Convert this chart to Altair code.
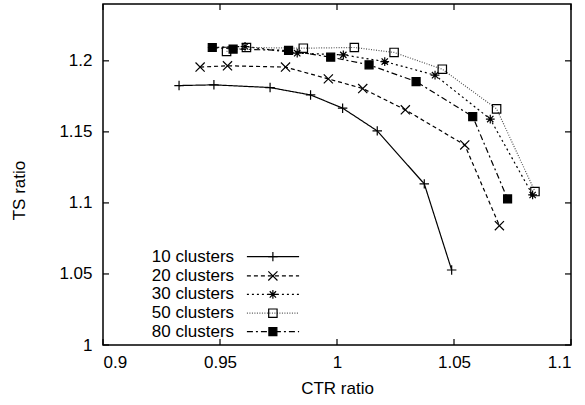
import altair as alt
import pandas as pd

series = ["10 clusters", "20 clusters", "30 clusters", "50 clusters", "80 clusters"]

ctr_10 = [0.9325, 0.9474, 0.9714, 0.9887, 1.0024, 1.0172, 1.0373, 1.0490]
ts_10 = [1.1826, 1.1831, 1.1812, 1.1760, 1.1667, 1.1507, 1.1134, 1.0528]
ctr_20 = [0.9415, 0.9532, 0.9780, 0.9963, 1.0110, 1.0292, 1.0546, 1.0694]
ts_20 = [1.1956, 1.1965, 1.1956, 1.1873, 1.1805, 1.1655, 1.1408, 1.0840]
ctr_30 = [0.9467, 0.9607, 0.9830, 1.0027, 1.0204, 1.0419, 1.0655, 1.0836]
ts_30 = [1.2094, 1.2101, 1.2054, 1.2042, 1.1995, 1.1899, 1.1590, 1.1056]
ctr_50 = [0.9528, 0.9613, 0.9856, 1.0074, 1.0244, 1.0450, 1.0682, 1.0846]
ts_50 = [1.2066, 1.2094, 1.2089, 1.2094, 1.2059, 1.1941, 1.1662, 1.1080]
ctr_80 = [0.9467, 0.9556, 0.9793, 0.9973, 1.0137, 1.0338, 1.0580, 1.0729]
ts_80 = [1.2094, 1.2083, 1.2073, 1.2026, 1.1972, 1.1854, 1.1608, 1.1028]

x_ticks = [0.9, 0.95, 1.0, 1.05, 1.1]
y_ticks = [1.0, 1.05, 1.1, 1.15, 1.2]

# legend placement (data coordinates)
legend_text_x = 0.956
legend_line_x = [0.9615, 0.9838]
legend_symbol_x = 0.9726
legend_rows_y = [1.0622, 1.0486, 1.0356, 1.0224, 1.0094]

W, H = 468, 341
FONT = "Liberation Sans"

rows = []
for name, xs, ys in zip(series, [ctr_10, ctr_20, ctr_30, ctr_50, ctr_80],
                        [ts_10, ts_20, ts_30, ts_50, ts_80]):
    for i, (a, b) in enumerate(zip(xs, ys)):
        rows.append({"series": name, "ctr": a, "ts": b, "order": i})
df = pd.DataFrame(rows)

leg = pd.DataFrame({
    "series": series,
    "tx": [legend_text_x] * 5,
    "x1": [legend_line_x[0]] * 5,
    "x2": [legend_line_x[1]] * 5,
    "sx": [legend_symbol_x] * 5,
    "y": legend_rows_y,
})

xs = alt.Scale(domain=[0.9, 1.1], nice=False, zero=False)
ys = alt.Scale(domain=[1.0, 1.24], nice=False, zero=False)

dash_scale = alt.Scale(domain=series, range=[[1, 0], [4, 3], [2, 3], [1, 1.5], [6, 3, 2, 3]])
stroke_scale = alt.Scale(domain=series, range=["black", "black", "black", "#555555", "black"])
shape_scale = alt.Scale(domain=series, range=[
    "M-1,0L1,0M0,-1L0,1",
    "M-1,-1L1,1M-1,1L1,-1",
    "M-1,0L1,0M0,-1L0,1M-0.72,-0.72L0.72,0.72M-0.72,0.72L0.72,-0.72",
    "square",
    "square",
])
size_scale = alt.Scale(domain=series, range=[90, 64, 70, 75, 80])
fill_scale = alt.Scale(domain=series, range=["transparent", "transparent", "transparent", "transparent", "black"])

lines = alt.Chart(df).mark_line(strokeWidth=1.2).encode(
    x=alt.X("ctr:Q", scale=xs, axis=alt.Axis(
        values=x_ticks, format="~g", title="CTR ratio", ticks=False, domain=False,
        grid=False, labelPadding=9, titleY=43, titleBaseline="middle")),
    y=alt.Y("ts:Q", scale=ys, axis=alt.Axis(
        values=y_ticks, format="~g", title="TS ratio", ticks=False, domain=False,
        grid=False, labelPadding=11, titleX=-84, titleY=186, titleBaseline="middle")),
    stroke=alt.Stroke("series:N", scale=stroke_scale, legend=None),
    strokeDash=alt.StrokeDash("series:N", scale=dash_scale, legend=None),
    detail="series:N",
    order="order:Q",
)

points = alt.Chart(df).mark_point(strokeWidth=1.2, opacity=1, stroke="black").encode(
    x=alt.X("ctr:Q", scale=xs),
    y=alt.Y("ts:Q", scale=ys),
    shape=alt.Shape("series:N", scale=shape_scale, legend=None),
    size=alt.Size("series:N", scale=size_scale, legend=None),
    fill=alt.Fill("series:N", scale=fill_scale, legend=None),
)

leg_lines = alt.Chart(leg).mark_rule(strokeWidth=1.2).encode(
    x=alt.X("x1:Q", scale=xs),
    x2="x2:Q",
    y=alt.Y("y:Q", scale=ys),
    stroke=alt.Stroke("series:N", scale=stroke_scale, legend=None),
    strokeDash=alt.StrokeDash("series:N", scale=dash_scale, legend=None),
)
leg_points = alt.Chart(leg).mark_point(strokeWidth=1.2, opacity=1, stroke="black").encode(
    x=alt.X("sx:Q", scale=xs),
    y=alt.Y("y:Q", scale=ys),
    shape=alt.Shape("series:N", scale=shape_scale, legend=None),
    size=alt.Size("series:N", scale=size_scale, legend=None),
    fill=alt.Fill("series:N", scale=fill_scale, legend=None),
)
leg_text = alt.Chart(leg).mark_text(align="right", baseline="middle", fontSize=17,
                                    font=FONT, color="black").encode(
    x=alt.X("tx:Q", scale=xs),
    y=alt.Y("y:Q", scale=ys),
    text="series:N",
)

xt = pd.DataFrame({"v": x_ticks})
yt = pd.DataFrame({"v": y_ticks})
tb = alt.Chart(xt).mark_rule(color="black", strokeWidth=1.2).encode(
    x=alt.X("v:Q", scale=xs), y=alt.value(H), y2=alt.value(H - 6))
tt = alt.Chart(xt).mark_rule(color="black", strokeWidth=1.2).encode(
    x=alt.X("v:Q", scale=xs), y=alt.value(0), y2=alt.value(6))
tl = alt.Chart(yt).mark_rule(color="black", strokeWidth=1.2).encode(
    y=alt.Y("v:Q", scale=ys), x=alt.value(0), x2=alt.value(6))
tr = alt.Chart(yt).mark_rule(color="black", strokeWidth=1.2).encode(
    y=alt.Y("v:Q", scale=ys), x=alt.value(W), x2=alt.value(W - 6))

chart = alt.layer(tb, tt, tl, tr, lines, points, leg_lines, leg_points, leg_text).properties(
    width=W, height=H,
    autosize=alt.AutoSizeParams(type="none"),
    padding={"left": 103, "top": 4, "right": 14, "bottom": 60},
    background="white",
).configure_view(
    stroke="black", strokeWidth=1.5
).configure_axis(
    labelFont=FONT, titleFont=FONT, labelFontSize=17, titleFontSize=17,
    labelColor="black", titleColor="black", titleFontWeight="normal",
)

chart.save("out.html", embed_options={"renderer": "svg", "actions": False})
